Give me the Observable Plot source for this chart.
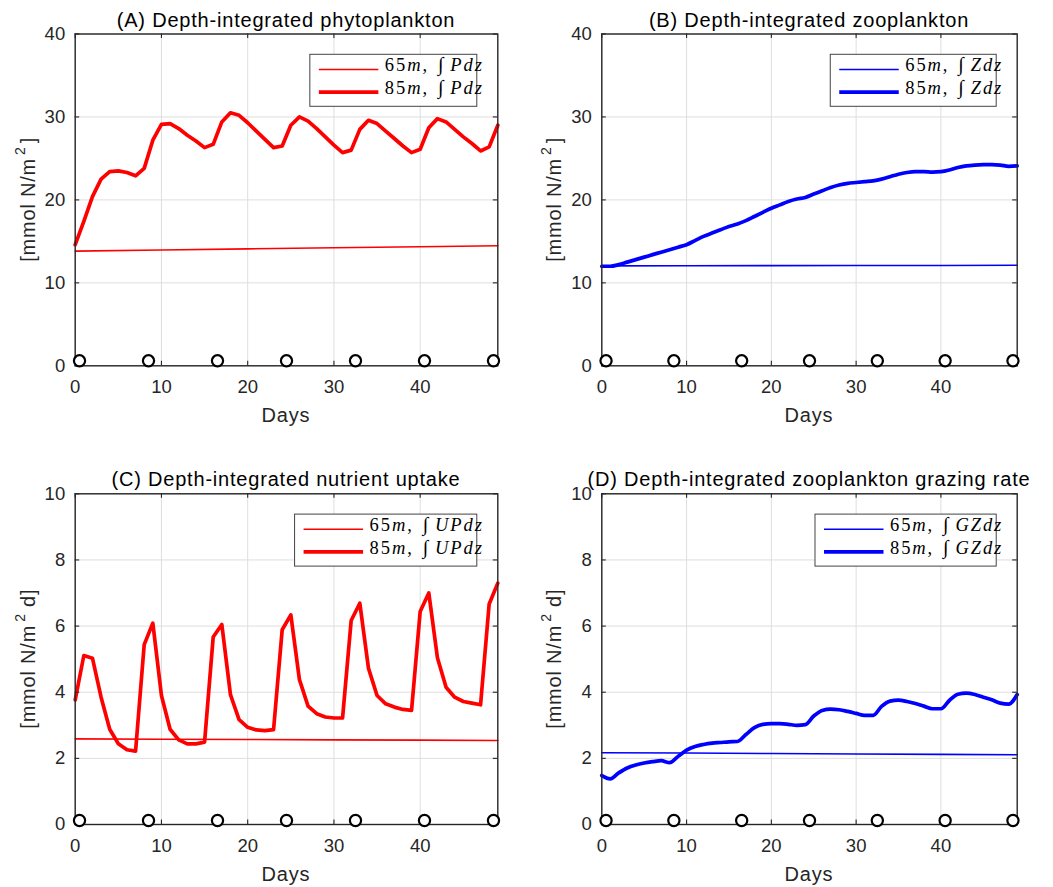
<!DOCTYPE html>
<html><head><meta charset="utf-8">
<script src="https://cdn.jsdelivr.net/npm/d3@7"></script>
<script src="https://cdn.jsdelivr.net/npm/@observablehq/plot@0.6"></script>
<style>
html,body{margin:0;padding:0;background:#fff;}
#fig{position:relative;width:1053px;height:887px;background:#fff;overflow:hidden;}
#fig svg{position:absolute;}
</style></head><body><div id="fig"></div>
<script>
// ---------- data ----------
const days = [0,1,2,3,4,5,6,7,8,9,10,11,12,13,14,15,16,17,18,19,20,21,22,23,24,25,26,27,28,29,30,31,32,33,34,35,36,37,38,39,40,41,42,43,44,45,46,47,48,49];
const thinDays = [0,10,20,30,40,49];
const markerDays = [0.5,8.5,16.5,24.5,32.5,40.5,48.5];
const xTicks = [0,10,20,30,40];
const yTicksTop = [0,10,20,30,40];
const yTicksBottom = [0,2,4,6,8,10];

const phyto65 = [13.83,13.96,14.1,14.23,14.36,14.48];
const phyto85 = [14.6,17.4,20.4,22.5,23.4,23.5,23.3,22.9,23.8,27.2,29.1,29.2,28.6,27.8,27.1,26.3,26.7,29.4,30.5,30.2,29.3,28.3,27.3,26.3,26.5,29.0,30.0,29.5,28.6,27.6,26.6,25.7,26.0,28.5,29.6,29.2,28.3,27.4,26.5,25.7,26.1,28.7,29.8,29.4,28.5,27.6,26.8,25.9,26.4,29.0];
const zoo65 = [12.05,12.06,12.08,12.09,12.1,12.12];
const zoo85 = [12.0,12.0,12.2,12.5,12.8,13.1,13.4,13.7,14.0,14.3,14.6,15.1,15.6,16.0,16.4,16.8,17.1,17.5,18.0,18.5,19.0,19.4,19.8,20.1,20.3,20.7,21.1,21.5,21.8,22.0,22.1,22.2,22.3,22.5,22.8,23.1,23.3,23.4,23.4,23.35,23.4,23.6,23.9,24.1,24.2,24.25,24.25,24.2,24.05,24.1];
const uptake65 = [2.59,2.58,2.57,2.56,2.55,2.54];
const uptake85 = [3.77,5.11,5.03,3.85,2.88,2.44,2.26,2.22,5.44,6.09,3.9,2.88,2.56,2.44,2.44,2.49,5.67,6.05,3.93,3.17,2.94,2.86,2.84,2.87,5.89,6.34,4.38,3.58,3.35,3.25,3.22,3.22,6.17,6.69,4.73,3.9,3.65,3.55,3.48,3.45,6.44,7.0,5.04,4.15,3.85,3.72,3.67,3.62,6.67,7.3];
const graze65 = [2.17,2.16,2.145,2.13,2.12,2.11];
const graze85 = [1.48,1.38,1.56,1.71,1.8,1.86,1.9,1.93,1.87,2.06,2.25,2.36,2.42,2.46,2.48,2.5,2.51,2.72,2.93,3.03,3.05,3.05,3.03,3.0,3.02,3.28,3.45,3.49,3.47,3.42,3.36,3.3,3.3,3.57,3.73,3.76,3.72,3.66,3.58,3.5,3.5,3.75,3.94,3.97,3.93,3.85,3.77,3.67,3.64,3.93];
const markerTop = 0.6;
const markerBottom = 0.12;

const titles = ["(A) Depth-integrated phytoplankton","(B) Depth-integrated zooplankton","(C) Depth-integrated nutrient uptake","(D) Depth-integrated zooplankton grazing rate"];
const legendVars = [["P"],["Z"],["U","P"],["G","Z"]];

// ---------- layout ----------
const fig = document.getElementById("fig");
const SANS = "'Liberation Sans', Arial, Helvetica, sans-serif";
const SERIF = "'Liberation Serif', 'Times New Roman', serif";

function panel(cfg) {
  const {sx, sy, sw, sh, L, R, T, B, ymax, yTicks, thin, thick, color, markerY, title, ylabelTail, vars, curve} = cfg;
  const pw = R - L, ph = B - T;
  const thinData = thinDays.map((d,i)=>({d, v: thin[i]}));
  const thickData = days.map((d,i)=>({d, v: thick[i]}));
  const markers = markerDays.map(d=>({d, v: markerY}));
  const tl = 4.5;
  const ink = "#262626";
  const svg = Plot.plot({
    width: sw, height: sh,
    marginLeft: L - sx, marginRight: sx + sw - R, marginTop: T - sy, marginBottom: sy + sh - B,
    x: {domain: [0, 49]},
    y: {domain: [0, ymax]},
    style: {fontFamily: SANS, fontSize: "18.5px", color: ink, background: "white", overflow: "visible"},
    marks: [
      Plot.gridX(xTicks, {stroke: "#dedede", strokeOpacity: 1, strokeWidth: 1}),
      Plot.gridY(yTicks, {stroke: "#dedede", strokeOpacity: 1, strokeWidth: 1}),
      Plot.line(thinData, {x: "d", y: "v", stroke: color, strokeWidth: 1.6}),
      Plot.line(thickData, {x: "d", y: "v", stroke: color, strokeWidth: 3.7, curve}),
      Plot.frame({stroke: ink, strokeWidth: 1.4}),
      Plot.tickX(xTicks, {x: d=>d, stroke: ink, strokeWidth: 1.1, insetTop: ph - tl}),
      Plot.tickX(xTicks, {x: d=>d, stroke: ink, strokeWidth: 1.1, insetBottom: ph - tl}),
      Plot.tickY(yTicks, {y: d=>d, stroke: ink, strokeWidth: 1.1, insetRight: pw - tl}),
      Plot.tickY(yTicks, {y: d=>d, stroke: ink, strokeWidth: 1.1, insetLeft: pw - tl}),
      Plot.dot(markers, {x: "d", y: "v", r: 5.6, stroke: "black", strokeWidth: 2.2, fill: "white"}),
      Plot.axisX(xTicks, {tickSize: 0, tickPadding: 14, fontSize: 18.5, label: null}),
      Plot.axisY(yTicks, {tickSize: 0, tickPadding: 10, fontSize: 18.5, label: null})
    ]
  });
  svg.style.left = sx + "px";
  svg.style.top = sy + "px";
  fig.appendChild(svg);
  const g = d3.select(svg).append("g").attr("transform", `translate(${-sx},${-sy})`);
  const cx = (L + R) / 2;
  // title
  g.append("text").attr("x", cx).attr("y", T - 7).attr("text-anchor", "middle")
    .attr("font-family", SANS).attr("font-size", 20).style("letter-spacing", "0.8px").attr("fill", "#000").text(title);
  // x label
  g.append("text").attr("x", cx).attr("y", B + 56.5).attr("text-anchor", "middle")
    .attr("font-family", SANS).attr("font-size", 20).style("letter-spacing", "0.8px").attr("fill", ink).text("Days");
  // y label
  const yl = g.append("text").attr("transform", `translate(${L - 40},${(T + B) / 2}) rotate(-90)`)
    .attr("text-anchor", "middle").attr("font-family", SANS).attr("font-size", 20)
    .style("letter-spacing", "0.8px").attr("fill", ink);
  yl.append("tspan").text("[mmol N/m");
  yl.append("tspan").attr("dx", 3).attr("dy", -10).attr("font-size", 14).text("2");
  yl.append("tspan").attr("dx", ylabelTail === "]" ? 3 : 0).attr("dy", 10).text(ylabelTail);
  // legend
  const lg = g.append("g");
  const boxR = R - 20.5, boxT = T + 20.8, boxH = 52;
  const rows = [["65", 1.6], ["85", 3.7]];
  const texts = [];
  rows.forEach(([depth, w], i) => {
    const ly = boxT + 15.2 + i * 22.6;
    const by = boxT + 16.8 + i * 22.6;
    const line = lg.append("line").attr("y1", ly).attr("y2", ly).attr("stroke", color).attr("stroke-width", w);
    const t = lg.append("text").attr("y", by).attr("text-anchor", "start").attr("font-family", SERIF).attr("font-size", 18.5)
      .style("letter-spacing", "1.9px").attr("fill", "#000");
    t.append("tspan").text(depth);
    t.append("tspan").attr("font-style", "italic").text("m");
    t.append("tspan").text(",");
    t.append("tspan").attr("dx", 9).attr("font-size", 20).text("\u222B");
    t.append("tspan").attr("dx", 5).attr("font-style", "italic").text(vars.join("") + "dz");
    texts.push({line, t});
  });
  const tw = d3.max(texts, o => o.t.node().getComputedTextLength());
  const textOff = 75;
  const boxW = textOff + tw + 7;
  const boxL = boxR - boxW;
  lg.insert("rect", ":first-child").attr("x", boxL).attr("y", boxT).attr("width", boxW).attr("height", boxH)
    .attr("fill", "white").attr("stroke", "#444").attr("stroke-width", 1);
  texts.forEach(o => {
    o.line.attr("x1", boxL + 9).attr("x2", boxL + 68.5);
    o.t.attr("x", boxL + textOff);
  });
}

const LA = 74.7, RA = 497.3, LB = 601.3, RB = 1016.7;
const TT = 33.5, BT = 365.3, TB = 493.3, BB = 824;
panel({sx: 0, sy: 0, sw: 526, sh: 443, L: LA, R: RA, T: TT, B: BT, ymax: 40, yTicks: yTicksTop, thin: phyto65, thick: phyto85, color: "#ff0000", markerY: markerTop, title: titles[0], ylabelTail: "]", vars: legendVars[0], curve: "linear"});
panel({sx: 526, sy: 0, sw: 527, sh: 443, L: LB, R: RB, T: TT, B: BT, ymax: 40, yTicks: yTicksTop, thin: zoo65, thick: zoo85, color: "#0000ff", markerY: markerTop, title: titles[1], ylabelTail: "]", vars: legendVars[1], curve: "monotone-x"});
panel({sx: 0, sy: 443, sw: 526, sh: 444, L: LA, R: RA, T: TB, B: BB, ymax: 10, yTicks: yTicksBottom, thin: uptake65, thick: uptake85, color: "#ff0000", markerY: markerBottom, title: titles[2], ylabelTail: " d]", vars: legendVars[2], curve: "linear"});
panel({sx: 526, sy: 443, sw: 527, sh: 444, L: LB, R: RB, T: TB, B: BB, ymax: 10, yTicks: yTicksBottom, thin: graze65, thick: graze85, color: "#0000ff", markerY: markerBottom, title: titles[3], ylabelTail: " d]", vars: legendVars[3], curve: "monotone-x"});
</script>
</body></html>
